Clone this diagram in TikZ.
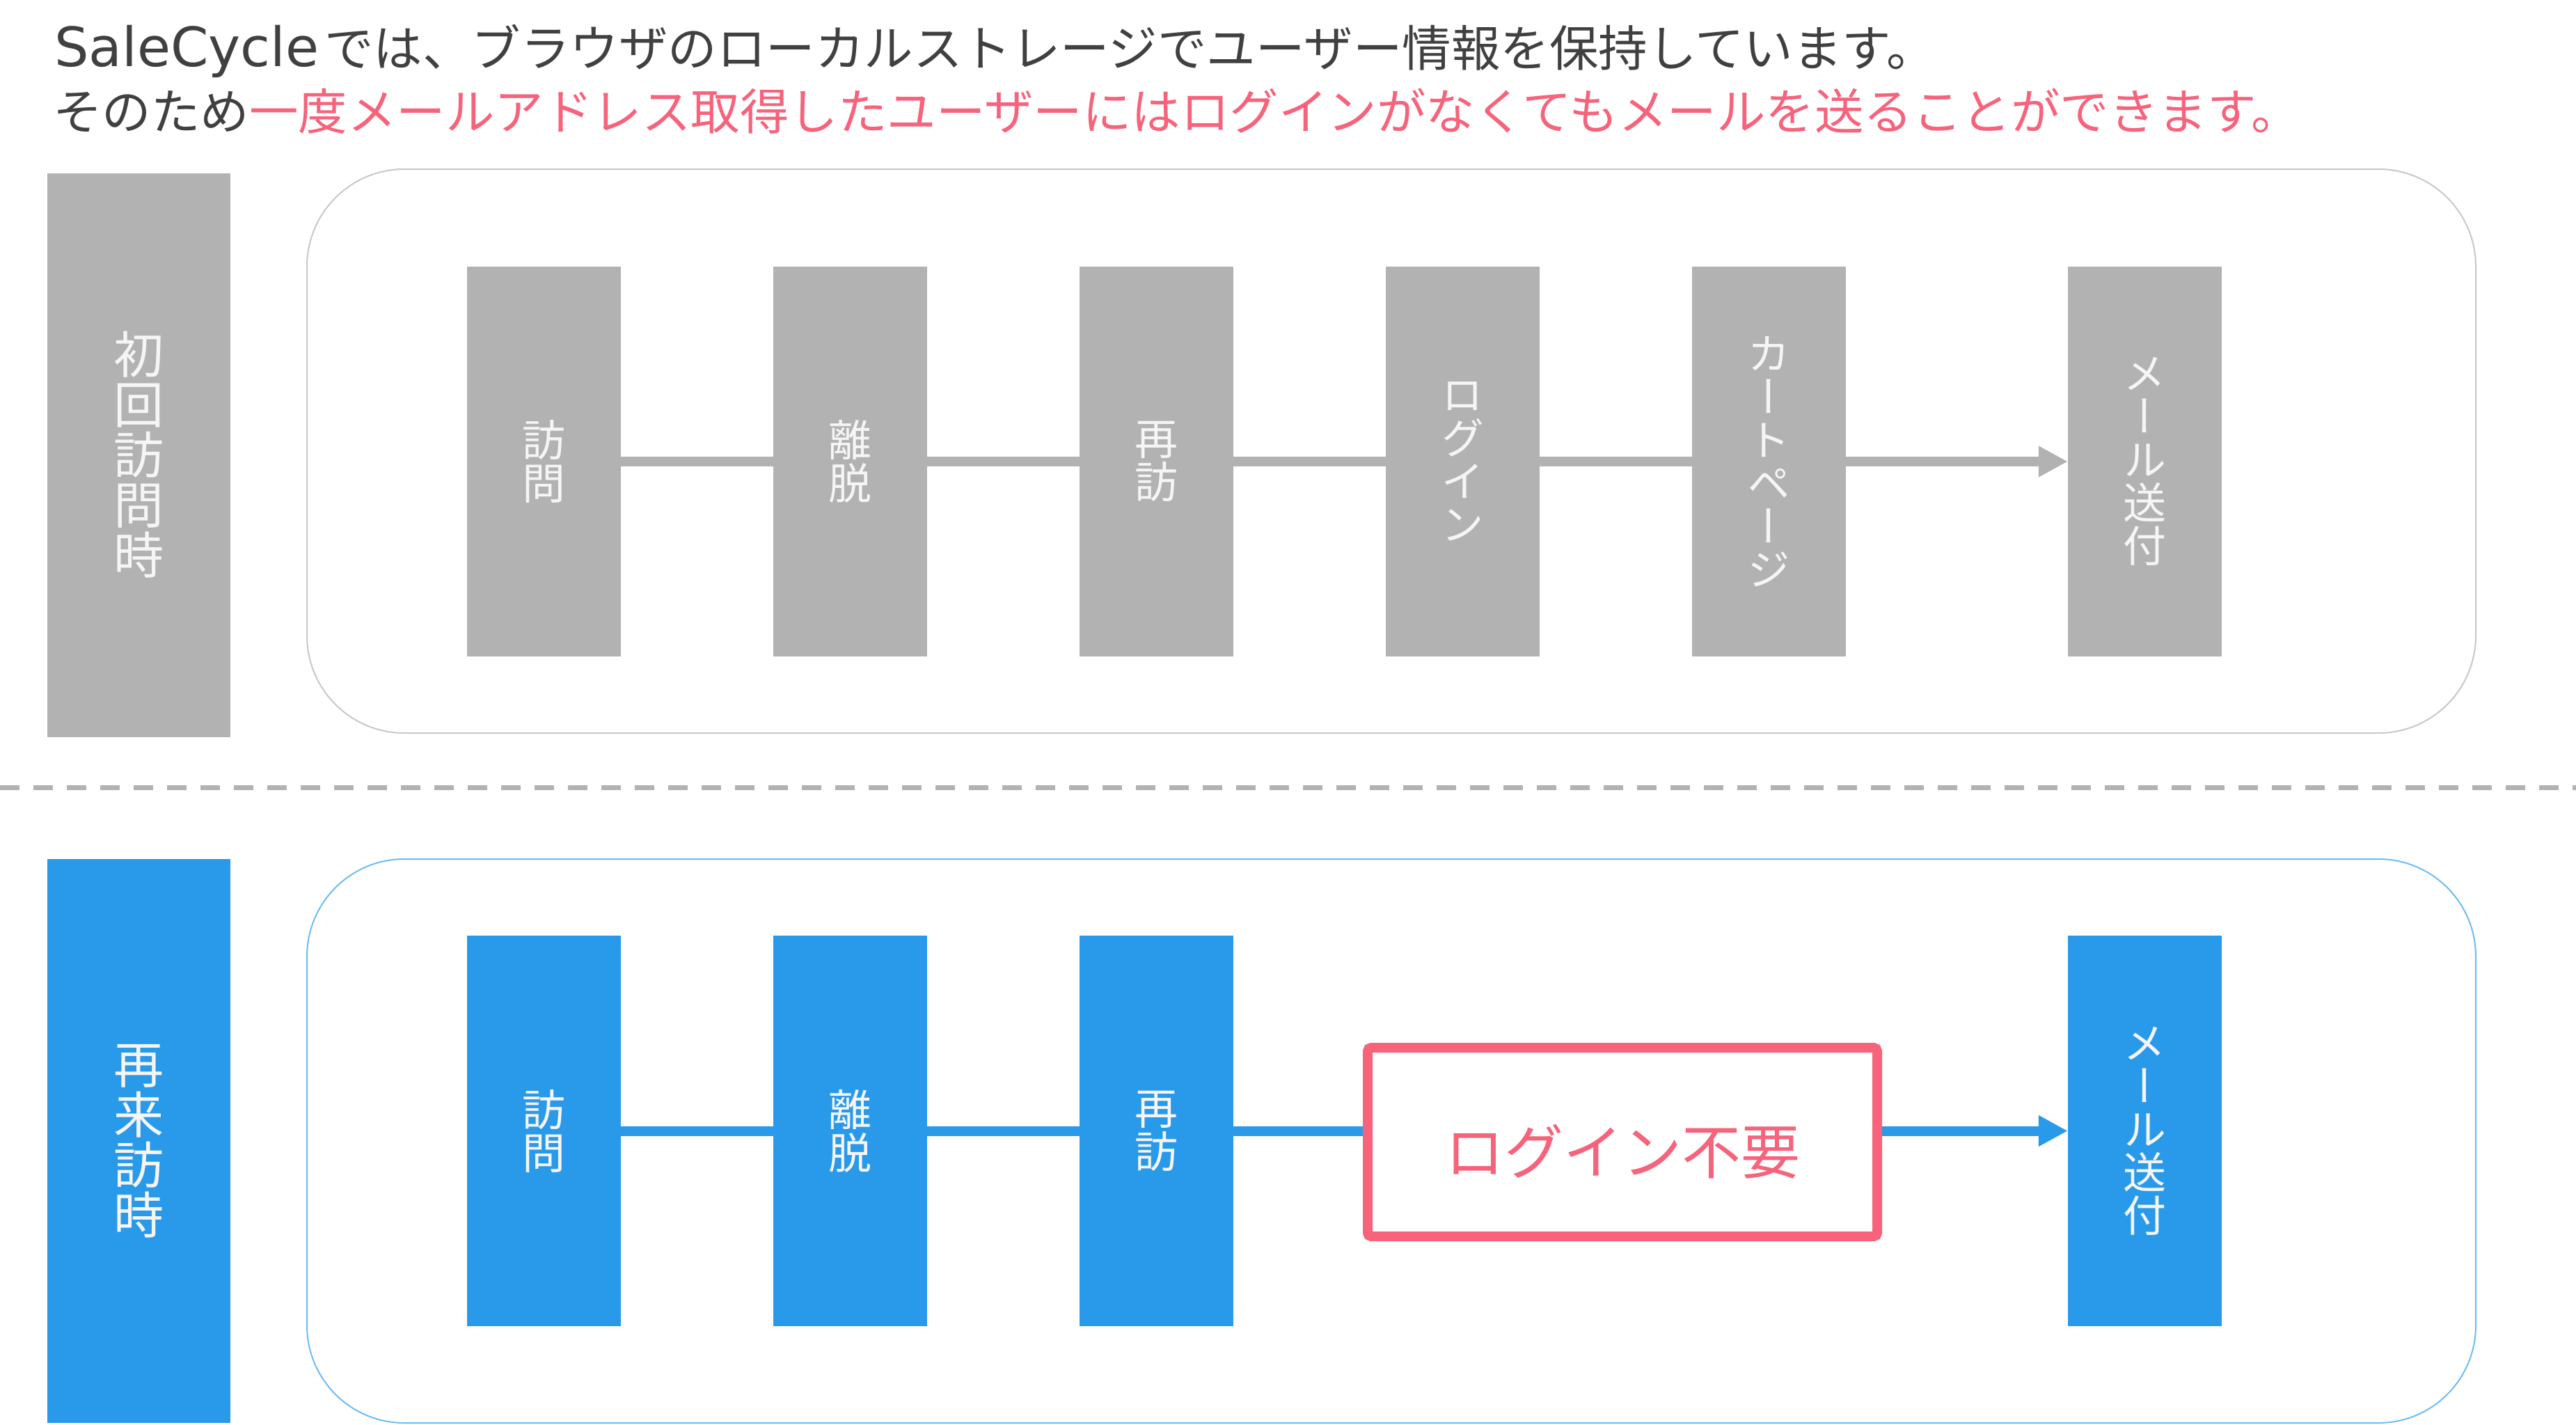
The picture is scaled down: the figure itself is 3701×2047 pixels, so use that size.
\documentclass[tikz,border=0pt]{standalone}
\usepackage{fontspec}
\setmainfont{Noto Sans CJK JP}
\newfontfamily\vjp[RawFeature=+vert]{Noto Sans CJK JP}
\newfontfamily\latinf{DejaVu Sans}
\usetikzlibrary{arrows.meta}
\definecolor{boxgray}{HTML}{B2B2B2}
\definecolor{boxblue}{HTML}{2999EA}
\definecolor{pinkc}{HTML}{F6637B}
\definecolor{titlegray}{HTML}{404040}
\definecolor{txtw}{HTML}{F5F5F5}
\definecolor{framegray}{HTML}{C8C8C8}
\definecolor{frameblue}{HTML}{6CBDF2}
\definecolor{dashgray}{HTML}{B2B2B2}
\tikzset{
  stepbox/.style={minimum width=221pt, minimum height=560pt, inner sep=0pt,
    text=txtw, font=\vjp\fontsize{62pt}{62pt}\selectfont, align=center},
  stepgray/.style={stepbox, fill=boxgray},
  stepblue/.style={stepbox, fill=boxblue, minimum height=561pt},
  sidebox/.style={minimum width=263pt, minimum height=810pt, inner sep=0pt,
    text=txtw, font=\vjp\fontsize{72pt}{72pt}\selectfont, align=center},
  framebox/.style={minimum width=3116pt, minimum height=810pt, inner sep=0pt,
    rounded corners=140pt, line width=2pt},
  gline/.style={draw=boxgray, line width=14pt},
  bline/.style={draw=boxblue, line width=14pt},
  tip/.style={-{Triangle[length=42pt,width=42pt]}},
  titletext/.style={anchor=base west, inner sep=0pt, text=titlegray,
    font=\fontsize{70.5pt}{70.5pt}\selectfont},
}
\begin{document}
\begin{tikzpicture}[x=1pt,y=-1pt]
\useasboundingbox[fill=white] (0,0) rectangle (3701,2047);

% title
\node[titletext] (t1) at (78,96) {{\latinf\fontsize{78pt}{78pt}\selectfont SaleCycle}\hspace{8pt}では、ブラウザのローカルストレージでユーザー情報を保持しています。};
\node[titletext] (t2) at (76,186) {そのため\textcolor{pinkc}{一度メールアドレス取得したユーザーにはログインがなくてもメールを送ることができます。}};

% first visit
\node[sidebox, fill=boxgray] (s1) at (199.5,653.5) {初\\回\\訪\\問\\時};
\node[framebox, draw=framegray] (f1) at (1999,648) {};
\node[stepgray] (g1) at (781.5,663) {訪\\問};
\node[stepgray] (g2) at (1221.5,663) {離\\脱};
\node[stepgray] (g3) at (1661.5,663) {再\\訪};
\node[stepgray] (g4) at (2101.5,663) {ロ\\グ\\イ\\ン};
\node[stepgray] (g5) at (2541.5,663) {カ\\ー\\ト\\ペ\\ー\\ジ};
\node[stepgray] (g6) at (3081.5,663) {メ\\ー\\ル\\送\\付};
\draw[gline] (g1.east) -- (g2.west);
\draw[gline] (g2.east) -- (g3.west);
\draw[gline] (g3.east) -- (g4.west);
\draw[gline] (g4.east) -- (g5.west);
\draw[gline, tip] (g5.east) -- (g6.west);

% separator
\coordinate (sepL) at (0,1131.5);
\coordinate (sepR) at (3701,1131.5);
\draw[dashgray, line width=7pt, dash pattern=on 28pt off 20pt] (sepL) -- (sepR);

% return visit
\node[sidebox, fill=boxblue] (s2) at (199.5,1639) {再\\来\\訪\\時};
\node[framebox, draw=frameblue] (f2) at (1999,1639) {};
\node[stepblue] (b1) at (781.5,1624.5) {訪\\問};
\node[stepblue] (b2) at (1221.5,1624.5) {離\\脱};
\node[stepblue] (b3) at (1661.5,1624.5) {再\\訪};
\node[stepblue] (b4) at (3081.5,1624.5) {メ\\ー\\ル\\送\\付};
\node[draw=pinkc, line width=14pt, rounded corners=5pt, fill=white,
  minimum width=732pt, minimum height=271pt, inner sep=0pt,
  text=pinkc, font=\fontsize{85pt}{85pt}\selectfont,
  text height=92pt, text depth=0pt] (nl) at (2331,1640.5) {ログイン不要};
\draw[bline] (b1.east) -- (b2.west);
\draw[bline] (b2.east) -- (b3.west);
\draw[bline] (b3.east) -- (b3.east -| nl.west);
\draw[bline, tip] (nl.east |- b4.west) -- (b4.west);
\end{tikzpicture}
\end{document}
